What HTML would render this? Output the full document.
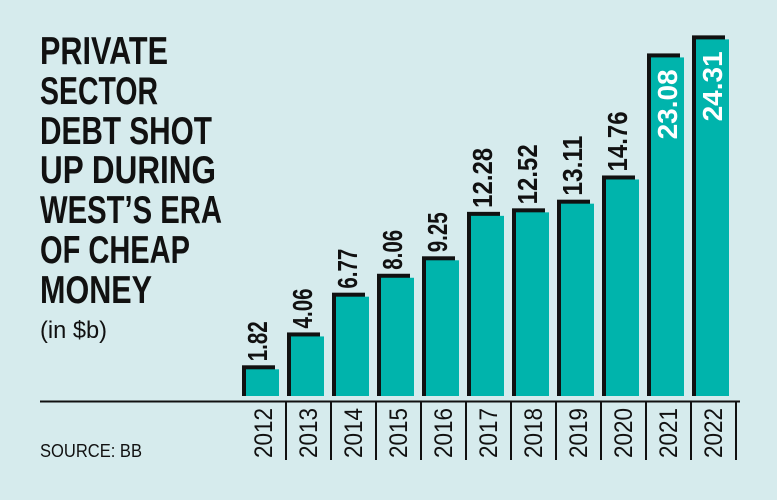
<!DOCTYPE html>
<html><head><meta charset="utf-8"><style>
html,body{margin:0;padding:0;background:#d6ebed;}
svg{display:block;}
</style></head><body>
<svg width="777" height="500" viewBox="0 0 777 500" xmlns="http://www.w3.org/2000/svg" font-family="Liberation Sans, sans-serif">
<rect width="777" height="500" fill="#d6ebed"/>
<g font-weight="bold" font-size="39" fill="#111">
<text x="40" y="64" textLength="128" lengthAdjust="spacingAndGlyphs">PRIVATE</text>
<text x="40" y="104" textLength="118" lengthAdjust="spacingAndGlyphs">SECTOR</text>
<text x="40" y="144" textLength="172" lengthAdjust="spacingAndGlyphs">DEBT SHOT</text>
<text x="40" y="183" textLength="176" lengthAdjust="spacingAndGlyphs">UP DURING</text>
<text x="40" y="223" textLength="182" lengthAdjust="spacingAndGlyphs">WEST’S ERA</text>
<text x="40" y="263" textLength="150" lengthAdjust="spacingAndGlyphs">OF CHEAP</text>
<text x="40" y="303" textLength="112" lengthAdjust="spacingAndGlyphs">MONEY</text>
</g>
<text x="40" y="338" font-size="24" fill="#111" textLength="67" lengthAdjust="spacingAndGlyphs">(in $b)</text>
<text x="40" y="457" font-size="18" fill="#111" textLength="102" lengthAdjust="spacingAndGlyphs">SOURCE: BB</text>
<line x1="40" y1="401.5" x2="740" y2="401.5" stroke="#111" stroke-width="2"/>
<g id="bars"></g>
</svg>
<script>
var vals=[1.82,4.06,6.77,8.06,9.25,12.28,12.52,13.11,14.76,23.08,24.31];
var yrs=[2012,2013,2014,2015,2016,2017,2018,2019,2020,2021,2022];
var k=14.67,g=document.getElementById('bars'),h='';
for(var i=0;i<11;i++){
 var s=241+45*i,v=vals[i],bt=396-(4+k*v);
 h+='<rect x="'+(s+1)+'" y="'+bt+'" width="33" height="'+(396-bt)+'" fill="#111"/>';
 h+='<rect x="'+(s+5)+'" y="'+(bt+4)+'" width="33" height="'+(396-bt-4)+'" fill="#00b4ac"/>';
 var cx=s+17+9;
 var lbl=v.toFixed(2),len=lbl.length==4?40:60;
 if(i>=9){
   h+='<text transform="translate('+(s+21+10)+','+(bt+4+len+22)+') rotate(-90)" font-size="28" font-weight="bold" fill="#fff" textLength="70" lengthAdjust="spacingAndGlyphs">'+lbl+'</text>';
 } else {
   h+='<text transform="translate('+cx+','+(bt-4)+') rotate(-90)" font-size="28" font-weight="bold" fill="#111" textLength="'+len+'" lengthAdjust="spacingAndGlyphs">'+lbl+'</text>';
 }
 h+='<text transform="translate('+(s+31)+',458) rotate(-90)" font-size="25" fill="#111" textLength="50" lengthAdjust="spacingAndGlyphs">'+yrs[i]+'</text>';
 if(i>0) h+='<line x1="'+s+'" y1="401" x2="'+s+'" y2="460" stroke="#111" stroke-width="2"/>';
}
h+='<line x1="286" y1="401" x2="286" y2="460" stroke="#111" stroke-width="2"/>';
h+='<line x1="736" y1="401" x2="736" y2="460" stroke="#111" stroke-width="2"/>';
g.innerHTML=h;
</script>
</body></html>
